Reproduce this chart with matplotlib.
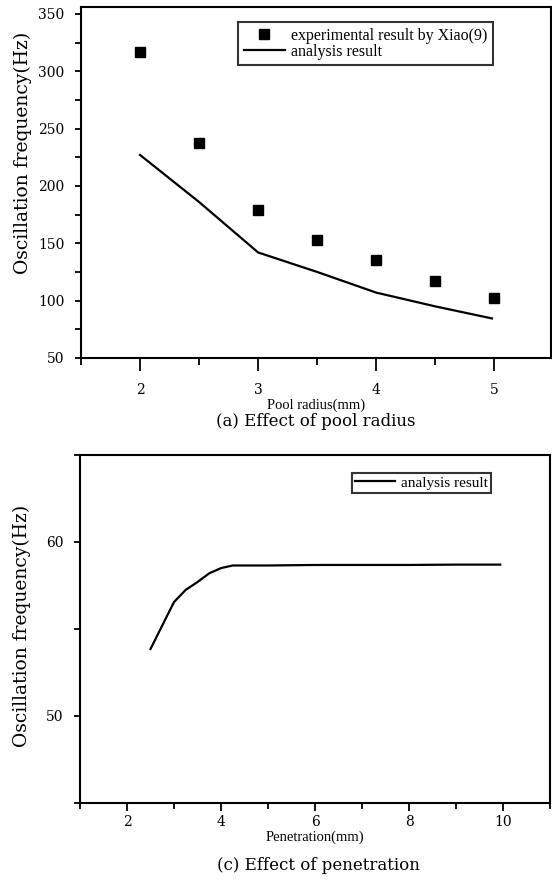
import numpy as np
import matplotlib
matplotlib.use("Agg")
import matplotlib.pyplot as plt
from matplotlib.ticker import MultipleLocator

# (a) pool radius
radius_exp = [2.0, 2.5, 3.0, 3.5, 4.0, 4.5, 5.0]
freq_exp = [317, 237, 179, 153, 135, 117, 102]
radius_ana = [2.0, 2.5, 3.0, 3.5, 4.0, 4.5, 4.98]
freq_ana = [227, 186, 142, 125, 107, 95, 84.5]

# (c) penetration
pen = [2.5, 2.75, 3.0, 3.25, 3.5, 3.75, 4.0, 4.25, 5, 6, 7, 8, 9, 9.94]
freq_pen = [53.85, 55.2, 56.55, 57.25, 57.7, 58.2, 58.5, 58.65, 58.65,
            58.68, 58.68, 58.68, 58.7, 58.7]

tick_font = {'family': 'DejaVu Serif', 'size': 10}
small_font = {'family': 'Liberation Serif', 'size': 10.5}
leg_font = {'family': 'Liberation Serif', 'size': 11.5}
leg2_font = {'family': 'Liberation Serif', 'size': 11}
ylab_font = {'family': 'DejaVu Serif', 'size': 13.5}
cap_font = {'family': 'DejaVu Serif', 'size': 12}

fig = plt.figure(figsize=(5.52, 8.83), dpi=100)
W, H = 552.0, 883.0


def style(ax):
    for s in ax.spines.values():
        s.set_linewidth(1.5)
    ax.tick_params(axis='both', which='both', direction='out', width=1.3,
                   color='black')
    ax.tick_params(axis='y', which='both', length=4, pad=8)
    for lab in ax.get_xticklabels() + ax.get_yticklabels():
        lab.set_fontfamily(tick_font['family'])
        lab.set_fontsize(tick_font['size'])


# ---- top chart
ax1 = fig.add_axes([81 / W, 1 - 358 / H, 470 / W, 351 / H])
ax1.plot(radius_exp, freq_exp, 's', color='black', ms=6.5,
         label='experimental result by Xiao(9)')
ax1.plot(radius_ana, freq_ana, '-', color='black', lw=1.6,
         label='analysis result')
ax1.set_xlim(1.5, 5.48)
ax1.set_ylim(50, 356)
ax1.xaxis.set_major_locator(MultipleLocator(1))
ax1.xaxis.set_minor_locator(MultipleLocator(0.5))
ax1.yaxis.set_major_locator(MultipleLocator(50))
ax1.yaxis.set_minor_locator(MultipleLocator(25))
style(ax1)
ax1.tick_params(axis='x', which='major', length=9, pad=9)
ax1.tick_params(axis='x', which='minor', length=5)
ax1.set_xlabel('Pool radius(mm)', fontdict=small_font, labelpad=1)
ax1.set_ylabel('Oscillation frequency(Hz)', fontdict=ylab_font)
ax1.yaxis.set_label_coords(-0.105, 0.585)
leg1 = ax1.legend(loc='upper left', bbox_to_anchor=(0.334, 0.957),
                  borderaxespad=0, prop=leg_font, frameon=True,
                  fancybox=False, handlelength=2.6, labelspacing=0.0,
                  borderpad=0.35, handletextpad=0.4)
leg1.get_frame().set_edgecolor('black')
leg1.get_frame().set_linewidth(1.5)
fig.text(316 / W, 1 - 421 / H, '(a) Effect of pool radius', fontdict=cap_font,
         ha='center', va='center')

# ---- bottom chart
ax2 = fig.add_axes([80 / W, 1 - 803 / H, 470 / W, 348 / H])
ax2.plot(pen, freq_pen, '-', color='black', lw=1.6, label='analysis result')
ax2.set_xlim(1, 11)
ax2.set_ylim(45, 65)
ax2.xaxis.set_major_locator(MultipleLocator(2))
ax2.xaxis.set_minor_locator(MultipleLocator(1))
ax2.yaxis.set_major_locator(MultipleLocator(10))
ax2.yaxis.set_minor_locator(MultipleLocator(5))
style(ax2)
ax2.tick_params(axis='x', which='major', length=6, pad=3)
ax2.tick_params(axis='x', which='minor', length=4)
ax2.set_xlabel('Penetration(mm)', fontdict=small_font, labelpad=1)
ax2.set_ylabel('Oscillation frequency(Hz)', fontdict=ylab_font)
ax2.yaxis.set_label_coords(-0.105, 0.51)
leg2 = ax2.legend(loc='upper left', bbox_to_anchor=(0.579, 0.948),
                  borderaxespad=0, prop=leg2_font, frameon=True,
                  fancybox=False, handlelength=2.6, borderpad=0.2,
                  handletextpad=0.4)
leg2.get_frame().set_edgecolor('black')
leg2.get_frame().set_linewidth(1.5)
fig.text(318 / W, 1 - 865 / H, '(c) Effect of penetration', fontdict=cap_font,
         ha='center', va='center')

fig.savefig('out.png', dpi=100)
